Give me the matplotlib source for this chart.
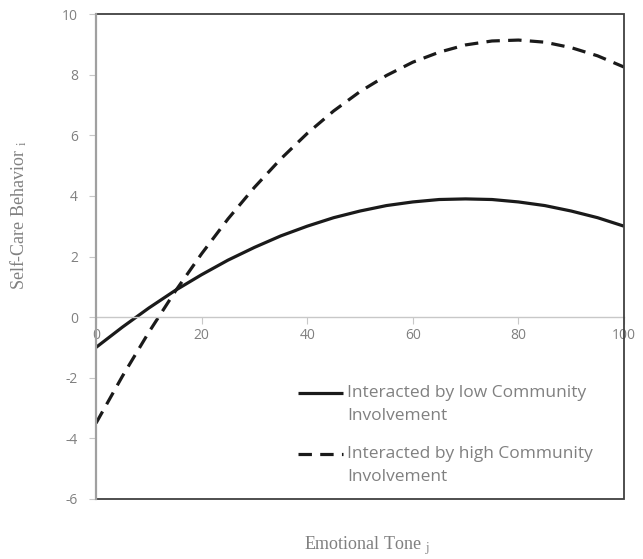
import matplotlib
matplotlib.use("Agg")
import numpy as np
import matplotlib.pyplot as plt
from matplotlib.patches import Rectangle
from matplotlib.legend_handler import HandlerLine2D

plt.rcParams['mathtext.fontset'] = 'stix'
plt.rcParams['axes.unicode_minus'] = False

tone = [0, 5, 10, 15, 20, 25, 30, 35, 40, 45, 50, 55, 60, 65, 70, 75, 80, 85, 90, 95, 100]
low_ci = [-1.0, -0.33, 0.30, 0.88, 1.40, 1.88, 2.30, 2.68, 3.00, 3.28, 3.50, 3.68, 3.80,
          3.88, 3.90, 3.88, 3.80, 3.68, 3.50, 3.28, 3.00]
high_ci = [-3.50, -1.95, -0.50, 0.85, 2.09, 3.24, 4.28, 5.22, 6.06, 6.80, 7.44, 7.97, 8.41,
           8.74, 8.98, 9.11, 9.14, 9.07, 8.89, 8.62, 8.25]
labels = ["Interacted by low Community\nInvolvement", "Interacted by high Community\nInvolvement"]
xticks = [0, 20, 40, 60, 80, 100]
yticks = [-6, -4, -2, 0, 2, 4, 6, 8, 10]


class FirstLineHandler(HandlerLine2D):
    def create_artists(self, legend, orig_handle, xdescent, ydescent, width, height,
                       fontsize, trans):
        arts = super().create_artists(legend, orig_handle, xdescent, ydescent, width,
                                      height, fontsize, trans)
        for a in arts:
            a.set_ydata(np.asarray(a.get_ydata()) + 8.6)
        return arts


gray = '#808080'
fig = plt.figure(figsize=(6.43, 5.59), dpi=100)
ax = fig.add_axes([96/643, 1-499/559, (624-96)/643, (499-14)/559])

l1, = ax.plot(tone, low_ci, color='#1a1a1a', lw=2.3, solid_capstyle='butt', label=labels[0])
l2, = ax.plot(tone, high_ci, color='#1a1a1a', lw=2.3, linestyle=(0, (4.2, 2.6)),
              dash_capstyle='butt', label=labels[1])

ax.set_xlim(0, 100)
ax.set_ylim(-6, 10)
ax.set_xticks(xticks)
ax.set_yticks(yticks)

for s in ['top', 'right']:
    ax.spines[s].set_visible(False)
ax.spines['bottom'].set_position(('data', 0))
ax.spines['bottom'].set_color('#c8c8c8')
ax.spines['bottom'].set_linewidth(1.0)
ax.spines['left'].set_color('#a0a0a0')
ax.spines['left'].set_linewidth(1.6)
ax.spines['left'].set_zorder(5)
ax.add_patch(Rectangle((0, 0), 1, 1, transform=ax.transAxes, fill=False,
                       edgecolor='#404040', lw=1.3, zorder=4, clip_on=False))

ax.tick_params(axis='x', direction='out', length=5, color='#c8c8c8', labelcolor=gray,
               labelsize=10, pad=3)
ax.tick_params(axis='y', direction='out', length=5, color='#c8c8c8', labelcolor=gray,
               labelsize=10, pad=8)
for t in ax.get_xticklabels() + ax.get_yticklabels():
    t.set_fontfamily('Open Sans')

h = FirstLineHandler()
leg = ax.legend(handles=[l1, l2], loc='upper left',
                bbox_to_anchor=((298-96)/528, (499-385)/485),
                frameon=False, borderpad=0, borderaxespad=0,
                handlelength=2.6, handletextpad=0.25, labelspacing=1.24,
                prop={'family': 'Open Sans', 'size': 12.5},
                handler_map={l1: h, l2: h})
for t in leg.get_texts():
    t.set_color(gray)
    t.set_linespacing(1.62)

fig.text(19/643, 1-215/559, r'Self-Care Behavior $_{\mathrm{i}}$', rotation=90,
         ha='center', va='center', family='Liberation Serif', size=13, color=gray)
fig.text(367/643, 1-546/559, r'Emotional Tone $_{\mathrm{j}}$',
         ha='center', va='center', family='Liberation Serif', size=13, color=gray)

fig.savefig('out.png', dpi=100)
